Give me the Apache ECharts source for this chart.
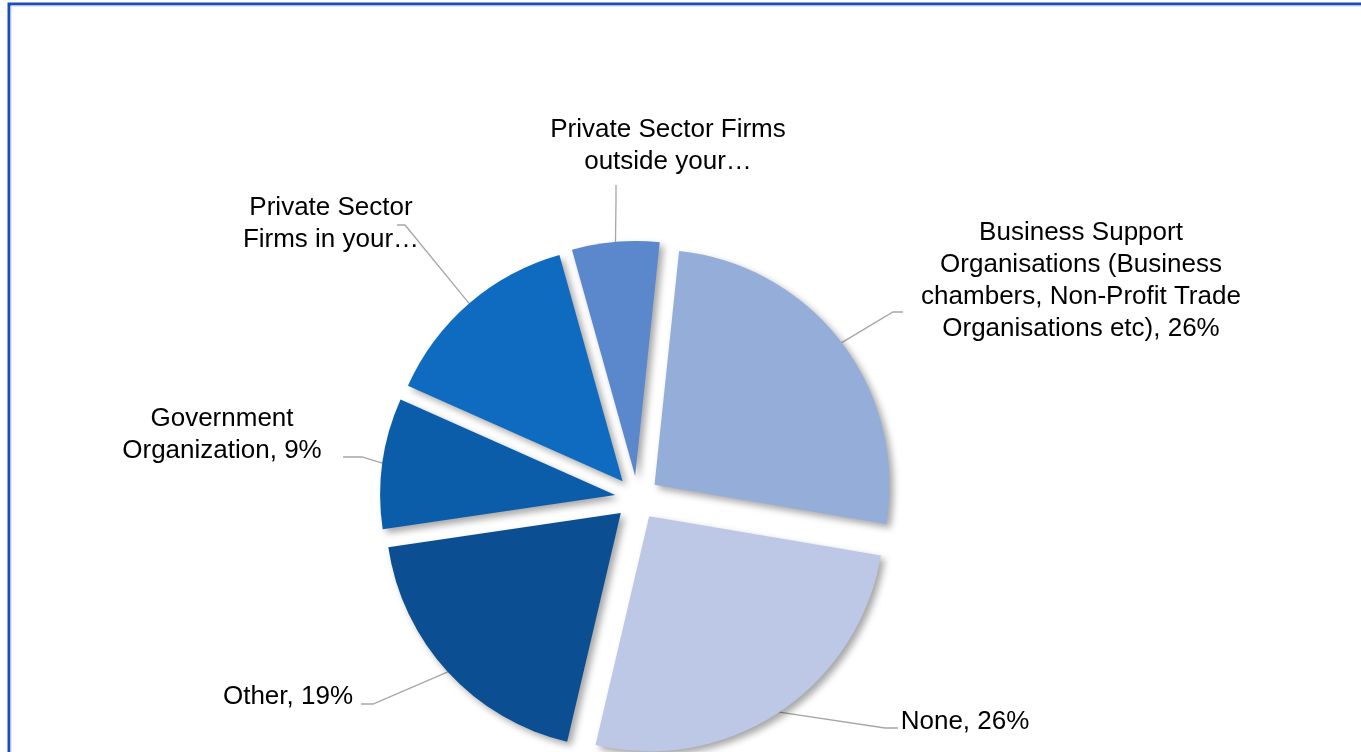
<!doctype html>
<html>
	<head>
		<meta charset="UTF-8">
		<title>Pie</title>
		<script src="https://cdn.jsdelivr.net/npm/echarts@6/dist/echarts.min.js"></script>
		<style>
			html, body { margin: 0; padding: 0; background: #fff; }
			#chart { width: 1361px; height: 752px; }
		</style>
	</head>
	<body>
		<div id="chart"></div>
		<script type="text/javascript">
			// data
			var categories = [
				'Business Support Organisations (Business chambers, Non-Profit Trade Organisations etc)',
				'None',
				'Other',
				'Government Organization',
				'Private Sector Firms in your…',
				'Private Sector Firms outside your…'
			];
			var values = [26, 26, 19, 9, 14, 6];
			var labelTexts = [
				'Business Support\nOrganisations (Business\nchambers, Non-Profit Trade\nOrganisations etc), 26%',
				'None, 26%',
				'Other, 19%',
				'Government\nOrganization, 9%',
				'Private Sector\nFirms in your…',
				'Private Sector Firms\noutside your…'
			];
			var colors = ['#95ADD9', '#BCC8E6', '#0B4E91', '#0B5DAA', '#0F6BBF', '#5B87CC'];

			// layout
			var cx = 637, cy = 498, R = 235, explode = 22, firstAngle = 6; // degrees clockwise from 12 o'clock
			var labelPos = [[1081, 281], [965, 722], [288, 697], [222, 435], [331, 224], [668, 146]];
			var elbows = [
				[[893, 312], [903, 312]],
				[[885, 728], [898, 728]],
				[[373, 704], [361, 704]],
				[[362, 457], [343, 457]],
				[[405, 225], [397, 225]],
				[[616, 200], [616, 185]]
			];

			var total = values.reduce(function (a, b) { return a + b; }, 0);
			var anchors = [];
			var acc = 0;
			values.forEach(function (v) {
				var mid = (firstAngle + (acc + v / 2) / total * 360) * Math.PI / 180;
				acc += v;
				var r = R + explode;
				anchors.push([cx + r * Math.sin(mid), cy - r * Math.cos(mid)]);
			});

			var shadow = {
				borderWidth: 0,
				shadowBlur: 7,
				shadowOffsetX: 4,
				shadowOffsetY: 4,
				shadowColor: 'rgba(0,0,0,0.35)'
			};

			var option = {
				backgroundColor: '#fff',
				animation: false,
				graphic: [{
					type: 'rect',
					shape: { x: 9, y: 4, width: 1400, height: 800 },
					style: { fill: 'none', stroke: '#1A4CBA', lineWidth: 3 },
					silent: true
				}, {
					type: 'rect',
					shape: { x: 11, y: 6, width: 1400, height: 800 },
					style: { fill: 'none', stroke: '#C9D8F2', lineWidth: 1 },
					silent: true
				}],
				series: [{
					type: 'pie',
					center: [cx, cy],
					radius: R,
					startAngle: 90 - firstAngle,
					clockwise: true,
					selectedMode: 'multiple',
					selectedOffset: explode,
					silent: true,
					label: { show: false },
					labelLine: { show: false },
					itemStyle: shadow,
					select: { itemStyle: shadow },
					emphasis: { disabled: true },
					data: values.map(function (v, i) {
						return { name: categories[i], value: v, selected: true, itemStyle: { color: colors[i] } };
					})
				}, {
					type: 'pie',
					center: [cx, cy],
					radius: R + explode,
					startAngle: 90 - firstAngle,
					clockwise: true,
					silent: true,
					avoidLabelOverlap: false,
					itemStyle: { color: 'rgba(0,0,0,0)' },
					emphasis: { disabled: true },
					label: {
						show: true,
						position: 'outside',
						color: '#000',
						fontFamily: 'Liberation Sans, Arial, sans-serif',
						fontSize: 26,
						lineHeight: 32,
						align: 'center',
						formatter: function (p) { return labelTexts[p.dataIndex]; }
					},
					labelLine: {
						show: true,
						lineStyle: { color: '#A6A6A6', width: 1.3 }
					},
					labelLayout: function (p) {
						var i = p.dataIndex;
						return {
							x: labelPos[i][0],
							y: labelPos[i][1],
							align: 'center',
							verticalAlign: 'middle',
							labelLinePoints: [anchors[i], elbows[i][0], elbows[i][1]]
						};
					},
					data: values.map(function (v, i) {
						return { name: categories[i], value: v };
					})
				}]
			};

			var myChart = echarts.init(document.getElementById('chart'));
			myChart.setOption(option);
		</script>
	</body>
</html>
